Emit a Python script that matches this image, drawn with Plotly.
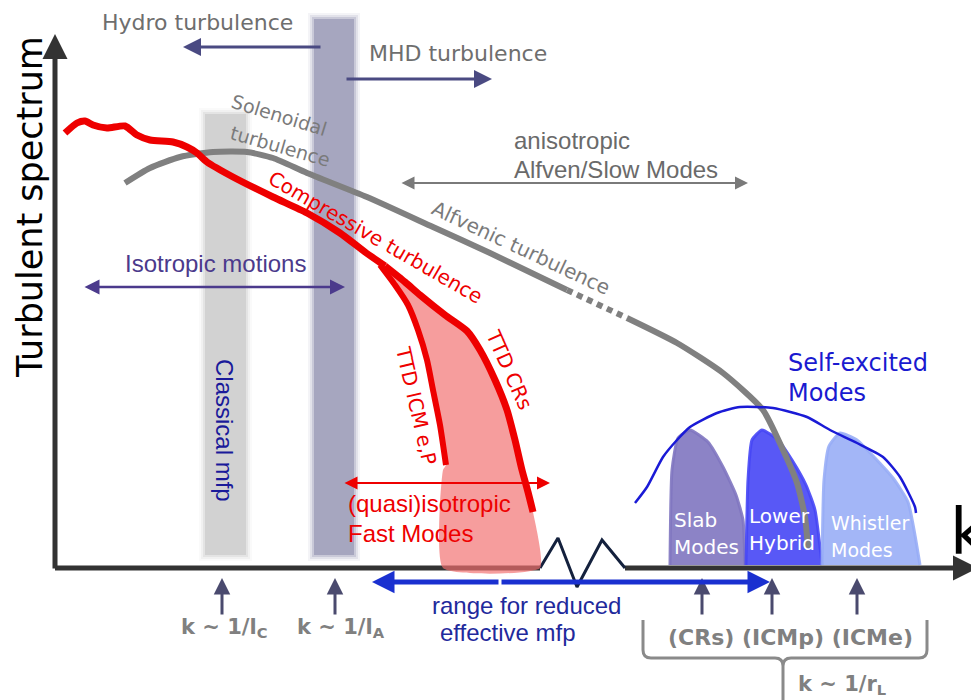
import plotly.graph_objects as go

# ---------------- data (schematic coordinates, k increasing to the right, spectrum increasing upward on a pixel-like scale) -------------
compressive_k = [65, 77, 85, 93, 107, 125, 137, 150, 173, 187, 197, 207, 233, 273, 307, 340, 365, 385]
compressive_E = [133, 123, 121, 125, 128, 126, 135, 140, 142, 147, 153, 162, 177, 197, 213, 233, 252, 266]

ttd_crs_k = [385, 405, 420, 445, 467, 480, 495, 507, 515, 522, 528, 533]
ttd_crs_E = [266, 282, 295, 315, 331, 350, 380, 410, 440, 470, 492, 512]

ttd_icm_k = [380, 395, 408, 418, 427, 433, 440, 446]
ttd_icm_E = [265, 285, 305, 330, 360, 390, 425, 465]

fast_fill_k = [380, 395, 408, 418, 427, 433, 440, 446, 443, 443, 540, 533, 528, 522, 515, 507, 495, 480, 467, 445, 420, 405]
fast_fill_E = [265, 285, 305, 330, 360, 390, 425, 465, 470, 568, 568, 512, 492, 470, 440, 410, 380, 350, 331, 315, 295, 282]

solenoidal_k = [125, 150, 180, 213, 247, 273, 307, 367, 433, 490, 567]
solenoidal_E = [183, 168, 157, 152, 152, 158, 173, 197, 227, 253, 290]

alfven_gap_k = [567, 627]
alfven_gap_E = [290, 318]

alfven_tail_k = [627, 677, 723, 763, 783, 797, 805, 808]
alfven_tail_E = [318, 343, 373, 410, 450, 483, 517, 548]

self_excited_k = [635, 647, 663, 677, 690, 717, 740, 773, 807, 830, 857, 883, 900, 915, 916]
self_excited_E = [503, 487, 457, 440, 427, 413, 407, 408, 417, 430, 443, 457, 477, 507, 513]

slab_k = [670, 672, 678, 690, 708, 723, 736, 743, 745]
slab_E = [565, 470, 438, 430, 442, 467, 495, 520, 565]
lower_hybrid_k = [746, 748, 752, 762, 778, 792, 806, 815, 822]
lower_hybrid_E = [565, 480, 440, 430, 440, 460, 485, 510, 565]
whistler_k = [822, 824, 829, 840, 857, 875, 893, 908, 920]
whistler_E = [565, 480, 446, 433, 440, 458, 478, 502, 565]

zigzag_k = [540, 558, 577, 602, 625]
zigzag_E = [568, 538, 587, 540, 568]

scale_marker_k = [222, 335, 702, 772, 857]
scale_labels = ["k ~ 1/l<sub>C</sub>", "k ~ 1/l<sub>A</sub>"]
bracket_labels = "(CRs) (ICMp) (ICMe)"

# ---------------- figure ----------------
fig = go.Figure()

GRAY = "#808080"
RED = "#ee0000"

def line(xs, ys, color, width, dash=None, name=""):
    fig.add_trace(go.Scatter(x=xs, y=ys, mode="lines", name=name,
                             line=dict(color=color, width=width, dash=dash, shape="spline", smoothing=0.6),
                             hoverinfo="skip", showlegend=False))

def fill(xs, ys, color, name="", edge=0):
    fig.add_trace(go.Scatter(x=xs, y=ys, mode="lines", fill="toself", fillcolor=color, name=name,
                             line=dict(width=edge, color=color, shape="spline", smoothing=0.5),
                             hoverinfo="skip", showlegend=False))

# vertical scale bars (soft edges)
def soft_bar(x0, x1, y0, y1, color):
    for pad, op in [(6, 0.12), (4, 0.22), (2, 0.4), (0, 1.0)]:
        fig.add_shape(type="rect", x0=x0 - pad, x1=x1 + pad, y0=y0 - pad, y1=y1 + pad,
                      fillcolor=color, opacity=op, line=dict(width=0), layer="below")

soft_bar(205, 246, 114, 555, "#d2d2d2")
soft_bar(314, 354, 19, 555, "#a6a6bf")

# mode lobes (soft edge + body)
fill(slab_k, slab_E, "rgba(128,118,192,0.9)", "Slab Modes", edge=3)
fill(lower_hybrid_k, lower_hybrid_E, "rgba(70,70,245,0.9)", "Lower Hybrid", edge=3)
fill(whistler_k, whistler_E, "rgba(150,172,246,0.88)", "Whistler Modes", edge=3)

# axes
line([55, 540], [568, 568], "#333333", 5)
line([625, 962], [568, 568], "#333333", 5)
fig.add_trace(go.Scatter(x=zigzag_k, y=zigzag_E, mode="lines", line=dict(color="#14213d", width=3),
                         hoverinfo="skip", showlegend=False))

# fast mode fill (drawn over the axis)
fill(fast_fill_k, fast_fill_E, "rgba(242,110,110,0.68)", "fast")

# spectra
line(solenoidal_k, solenoidal_E, GRAY, 6)
line(alfven_gap_k, alfven_gap_E, GRAY, 6, dash="6px,5px")
line(alfven_tail_k, alfven_tail_E, GRAY, 6)
line(compressive_k, compressive_E, RED, 7)
line(ttd_crs_k, ttd_crs_E, RED, 7)
line(ttd_icm_k, ttd_icm_E, RED, 6)
line(self_excited_k, self_excited_E, "#1a1ad6", 2.5)

ann = []

def text(x, y, s, size, color, family="DejaVu Sans", angle=0, xanchor="center", bold=False):
    if bold:
        s = "<b>" + s + "</b>"
    ann.append(dict(x=x, y=y, xref="x", yref="y", text=s, showarrow=False, textangle=angle,
                    font=dict(size=size, color=color, family=family), xanchor=xanchor, yanchor="middle"))

def arrow(x0, y0, x1, y1, color, width, both=False, head=2, size=1.0):
    ann.append(dict(x=x1, y=y1, ax=x0, ay=y0, xref="x", yref="y", axref="x", ayref="y", text="",
                    showarrow=True, arrowhead=head, arrowsize=size, arrowwidth=width, arrowcolor=color,
                    arrowside="end+start" if both else "end", startarrowhead=head, startarrowsize=size))

# axis arrows
arrow(55, 570, 55, 34, "#333333", 5, head=2, size=1.0)
arrow(955, 568, 978, 568, "#333333", 5, head=2, size=1.0)

# labels
text(30, 207, "Turbulent spectrum", 35, "black", angle=-90)
text(948, 532, "k", 64, "black", xanchor="left")

text(197, 22, "Hydro turbulence", 22, "#6e6e6e")
arrow(322, 47, 183, 47, "#4a4a82", 3, head=2, size=1.2)
text(458, 53, "MHD turbulence", 22, "#6e6e6e")
arrow(345, 79, 492, 79, "#4a4a82", 3, head=2, size=1.2)

text(279, 115, "Solenoidal", 19, "#7a7a7a", angle=17)
text(280, 146, "turbulence", 19, "#7a7a7a", angle=16)

text(512, 140, "anisotropic", 24, "#6a6a6a", family="Liberation Sans", xanchor="left")
text(512, 169, "Alfven/Slow Modes", 24, "#6a6a6a", family="Liberation Sans", xanchor="left")
arrow(400, 183, 748, 183, "#7a7a7a", 2, both=True, head=2, size=1.3)

text(521, 248, "Alfvenic turbulence", 20, "#7a7a7a", angle=25)
text(375, 237, "Compressive turbulence", 20, RED, angle=30)

text(215, 263, "Isotropic motions", 24, "#4b3a8c", family="Liberation Sans")
arrow(83, 287, 345, 287, "#4b3a8c", 2.5, both=True, head=2, size=1.2)

text(225, 430, "Classical mfp", 24, "#1a1a9a", family="Liberation Sans", angle=90)

text(416, 405, "TTD ICM e,P", 20, RED, angle=77)
text(509, 369, "TTD CRs", 20, RED, angle=66)

arrow(343, 483, 550, 483, RED, 2, both=True, head=2, size=1.3)
text(346, 503, "(quasi)isotropic", 24, RED, family="Liberation Sans", xanchor="left")
text(346, 533, "Fast Modes", 24, RED, family="Liberation Sans", xanchor="left")

text(786, 363, "Self-excited", 24, "#1a1ad0", xanchor="left")
text(786, 393, "Modes", 24, "#1a1ad0", xanchor="left")

text(672, 520, "Slab", 20, "white", xanchor="left")
text(672, 547, "Modes", 20, "white", xanchor="left")
text(747, 516, "Lower", 20, "white", xanchor="left")
text(747, 543, "Hybrid", 20, "white", xanchor="left")
text(829, 523, "Whistler", 19, "white", xanchor="left")
text(829, 550, "Modes", 19, "white", xanchor="left")

# scale markers below the axis
for kx in scale_marker_k:
    arrow(kx, 616, kx, 578, "#4a4a6e", 3, head=2, size=1.1)
text(scale_marker_k[0] + 2, 628, scale_labels[0], 21, "#808080", bold=True)
text(scale_marker_k[1] + 6, 628, scale_labels[1], 21, "#808080", bold=True)

arrow(500, 582, 372, 582, "#1a30d0", 5, head=2, size=0.9)
arrow(500, 582, 770, 582, "#1a30d0", 5, head=2, size=0.9)
text(526, 605, "range for reduced", 24, "#1f2a9c", family="Liberation Sans")
text(508, 632, "effective mfp", 24, "#1f2a9c", family="Liberation Sans")

# bracket
fig.add_shape(type="path",
              path="M 643 620 L 643 650 Q 643 658 651 658 L 775 658 Q 783 658 783 666 L 783 708 "
                   "M 783 666 Q 783 658 791 658 L 919 658 Q 927 658 927 650 L 927 620",
              line=dict(color="#8a8a8a", width=3))
text(790, 637, bracket_labels, 22, "#808080", bold=True)
text(796, 685, "k ~ 1/r<sub>L</sub>", 21, "#808080", xanchor="left", bold=True)

# the page body has an 8px margin: shift ranges so data units equal screen pixels
fig.update_layout(
    width=971, height=692,
    margin=dict(l=0, r=0, t=0, b=0),
    paper_bgcolor="white", plot_bgcolor="white",
    xaxis=dict(range=[8, 979], visible=False, fixedrange=True),
    yaxis=dict(range=[700, 8], visible=False, fixedrange=True),
    annotations=ann,
    showlegend=False,
)

fig.write_html("out.html")
